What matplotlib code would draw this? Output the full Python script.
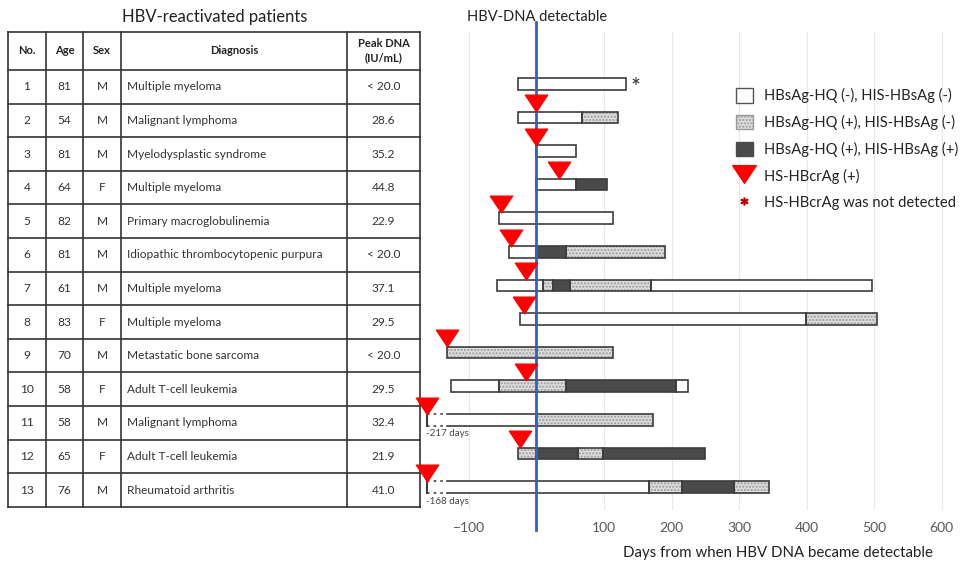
import matplotlib
matplotlib.use('Agg')
import matplotlib.pyplot as plt
from matplotlib.patches import Patch
from matplotlib.lines import Line2D
from matplotlib.path import Path

plt.rcParams['font.family'] = ['Lato', 'DejaVu Sans']

# ---- table data ----
pt_no = list(range(1, 14))
ages = [81, 54, 81, 64, 82, 81, 61, 83, 70, 58, 58, 65, 76]
sexes = ['M', 'M', 'M', 'F', 'M', 'M', 'M', 'F', 'M', 'F', 'M', 'F', 'M']
diagnoses = ['Multiple myeloma', 'Malignant lymphoma', 'Myelodysplastic syndrome',
             'Multiple myeloma', 'Primary macroglobulinemia',
             'Idiopathic thrombocytopenic purpura', 'Multiple myeloma',
             'Multiple myeloma', 'Metastatic bone sarcoma', 'Adult T-cell leukemia',
             'Malignant lymphoma', 'Adult T-cell leukemia', 'Rheumatoid arthritis']
peak_dna = ['< 20.0', '28.6', '35.2', '44.8', '22.9', '< 20.0', '37.1', '29.5',
            '< 20.0', '29.5', '32.4', '21.9', '41.0']
headers = ['No.', 'Age', 'Sex', 'Diagnosis', 'Peak DNA\n(IU/mL)']

# ---- timeline data (days from HBV DNA detectable) ----
# neg = HQ(-)/HIS(-), hq = HQ(+)/HIS(-), his = HQ(+)/HIS(+)
segments = [
    [(-28, 133, 'neg')],
    [(-28, 67, 'neg'), (67, 120, 'hq')],
    [(0, 58, 'neg')],
    [(0, 58, 'neg'), (58, 105, 'his')],
    [(-56, 113, 'neg')],
    [(-40, 0, 'neg'), (0, 44, 'his'), (44, 190, 'hq')],
    [(-59, 10, 'neg'), (10, 24, 'hq'), (24, 49, 'his'), (49, 169, 'hq'), (169, 496, 'neg')],
    [(-24, 0, 'neg'), (0, 399, 'neg'), (399, 504, 'hq')],
    [(-133, 113, 'hq')],
    [(-126, -56, 'neg'), (-56, 43, 'hq'), (43, 207, 'his'), (207, 224, 'neg')],
    [(-217, 0, 'neg'), (0, 172, 'hq')],
    [(-27, 0, 'hq'), (0, 61, 'his'), (61, 98, 'hq'), (98, 250, 'his')],
    [(-168, 167, 'neg'), (167, 216, 'hq'), (216, 292, 'his'), (292, 344, 'hq')],
]
crag_day = [None, 0, 0, 33, -53, -37, -15, -19, -132, -15, -217, -25, -168]
not_detected = [1]
xticks = [-100, 100, 200, 300, 400, 500, 600]

face = {'neg': 'white', 'hq': '#dcdcdc', 'his': '#4a4a4a'}
hatch = {'neg': None, 'hq': '.....', 'his': None}
EDGE = '#3c3c3c'
XMIN, XMAX = -165, 627
BREAK_L, BREAK_R = -162, -132
BAR_H = 0.34

fig = plt.figure(figsize=(9.6, 5.67), dpi=100)

# ---- table (pixel coordinates) ----
tab = fig.add_axes([0, 0, 1, 1])
tab.set_xlim(0, 960)
tab.set_ylim(567, 0)
tab.axis('off')

cols = [8, 46, 83, 121, 347, 420]
top, head_bot, row_h = 32, 70, 33.6
bottom = head_bot + 13 * row_h
for x in cols:
    tab.plot([x, x], [top, bottom], color='#333333', lw=1.2)
for y in [top, head_bot] + [head_bot + k * row_h for k in range(1, 14)]:
    tab.plot([cols[0], cols[-1]], [y, y], color='#333333', lw=1.2)

tab.text(215, 17, 'HBV-reactivated patients', ha='center', va='center',
         fontsize=12, color='#222222')
hcent = [(cols[k] + cols[k + 1]) / 2 for k in range(5)]
for k, h in enumerate(headers):
    tab.text(hcent[k], (top + head_bot) / 2, h, ha='center', va='center',
             fontsize=8, fontweight='bold', color='#222222', linespacing=1.35)
for r in range(13):
    yc = head_bot + (r + 0.5) * row_h
    kw = dict(va='center', fontsize=8.6, color='#333333')
    tab.text(hcent[0], yc, str(pt_no[r]), ha='center', **kw)
    tab.text(hcent[1], yc, str(ages[r]), ha='center', **kw)
    tab.text(hcent[2], yc, sexes[r], ha='center', **kw)
    tab.text(cols[3] + 6, yc, diagnoses[r], ha='left', **kw)
    tab.text(hcent[4], yc, peak_dna[r], ha='center', **kw)

# ---- timeline chart ----
ax = fig.add_axes([425 / 960, (567 - 510) / 567, 535 / 960, 478 / 567])
ax.patch.set_alpha(0)
ax.set_xlim(XMIN, XMAX)
ax.set_ylim(13.685, -0.542)
for s in ax.spines.values():
    s.set_visible(False)
ax.set_yticks([])
ax.set_xticks(xticks)
ax.tick_params(axis='x', length=0, labelsize=10, labelcolor='#595959', pad=9)
ax.grid(axis='x', color='#e8e8e8', lw=0.8)
ax.set_axisbelow(True)

tri = Path([(-1, 0.75), (1, 0.75), (0, -0.75), (-1, 0.75)], closed=True)

for i, segs in enumerate(segments):
    y = i + 1
    for (s, e, kind) in segs:
        broken = s < XMIN
        s_draw = BREAK_L if broken else s
        ax.barh(y, e - s_draw, left=s_draw, height=BAR_H, color=face[kind],
                edgecolor='none', lw=0, zorder=2)
        if hatch[kind]:
            ax.barh(y, e - s_draw, left=s_draw, height=BAR_H, color='none',
                    edgecolor='#9a9a9a', hatch=hatch[kind], lw=0, zorder=3)
        if broken:
            for yy in (y - BAR_H / 2, y + BAR_H / 2):
                ax.plot([BREAK_R, e], [yy, yy], color=EDGE, lw=1.2, zorder=4)
                ax.plot([BREAK_L, BREAK_R], [yy, yy], color=EDGE, lw=1.2,
                        ls=(0, (1.5, 2.5)), zorder=4)
            ax.plot([BREAK_L, BREAK_L], [y - BAR_H / 2, y + BAR_H / 2],
                    color=EDGE, lw=1.5, zorder=4)
            ax.plot([e, e], [y - BAR_H / 2, y + BAR_H / 2], color=EDGE, lw=1.2, zorder=4)
            ax.text(BREAK_L - 1, y + 0.42, f'{s} days', fontsize=7,
                    color='#444444', ha='left', va='center')
        else:
            ax.barh(y, e - s, left=s, height=BAR_H, color='none',
                    edgecolor=EDGE, lw=1.2, zorder=4)
    d = crag_day[i]
    if d is not None:
        ax.plot(max(d, BREAK_L), y - 0.42, marker=tri, ms=16, color='#ff0000',
                ls='none', zorder=6, clip_on=False)

for r in not_detected:
    end = segments[r - 1][-1][1]
    ax.text(end + 6, r + 0.12, '*', fontsize=17, color='#333333',
            ha='left', va='center')

ax.axvline(0, ymin=-0.042, ymax=1.021, color='#2e62c4', lw=2, zorder=5,
           clip_on=False)

handles = [
    Patch(facecolor='white', edgecolor='#555555', lw=1),
    Patch(facecolor='#dcdcdc', edgecolor='#9a9a9a', hatch='.....', lw=1),
    Patch(facecolor='#4a4a4a', edgecolor='#4a4a4a', lw=1),
    Line2D([], [], marker=tri, ms=17, color='#ff0000', ls='none'),
    Line2D([], [], marker='$*$', ms=5, color='#c00000', ls='none'),
]
labels = ['HBsAg-HQ (-), HIS-HBsAg (-)', 'HBsAg-HQ (+), HIS-HBsAg (-)',
          'HBsAg-HQ (+), HIS-HBsAg (+)', 'HS-HBcrAg (+)', 'HS-HBcrAg was not detected']
ax.legend(handles, labels, loc='upper left',
          bbox_to_anchor=(736 / 960, 1 - 88 / 567), bbox_transform=fig.transFigure,
          frameon=False, fontsize=10.6, handlelength=1.15, handleheight=1.15,
          handletextpad=0.75, labelspacing=0.78, borderpad=0, borderaxespad=0,
          labelcolor='#222222')

fig.text(537 / 960, 1 - 17 / 567, 'HBV-DNA detectable', ha='center', va='center',
         fontsize=10.5, color='#222222')
fig.text(778 / 960, 1 - 553 / 567, 'Days from when HBV DNA became detectable',
         ha='center', va='center', fontsize=10.8, color='#222222')

fig.savefig('out.png', dpi=100)
